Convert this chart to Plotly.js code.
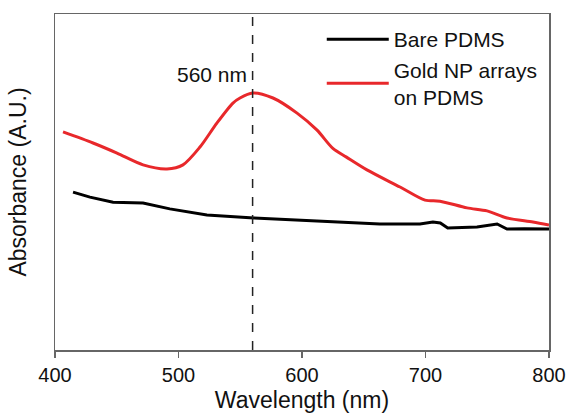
<!DOCTYPE html>
<html>
<head>
<meta charset="utf-8">
<script src="https://cdn.plot.ly/plotly-3.0.1.min.js"></script>
<style>html,body{margin:0;padding:0;background:#fff;}#chart{width:568px;height:413px;}</style>
</head>
<body>
<div id="chart"></div>
<script>
const bareX = [414.6, 428.3, 447, 471.3, 493, 523, 561, 598, 630, 663, 695.5, 706, 712, 718, 741.7, 758, 766, 780, 800];
const bareY = [0.470, 0.455, 0.440, 0.4375, 0.420, 0.402, 0.393, 0.387, 0.381, 0.375, 0.375, 0.381, 0.378, 0.363, 0.366, 0.375, 0.360, 0.361, 0.360];
const goldX = [406.5, 430.8, 450.2, 471.3, 490.7, 503.6, 517.4, 531.2, 544.1, 549.8, 560, 576.5, 596, 612, 625, 636, 652.6, 679.4, 699.6, 711.7, 733.6, 749.8, 766, 787, 800];
const goldY = [0.649, 0.616, 0.586, 0.551, 0.539, 0.551, 0.604, 0.676, 0.735, 0.750, 0.765, 0.750, 0.705, 0.655, 0.600, 0.574, 0.536, 0.485, 0.446, 0.443, 0.423, 0.414, 0.393, 0.381, 0.372];
const xTicks = [400, 500, 600, 700, 800];
const peakX = 560;
const peakLabel = "560 nm";

const font = "Liberation Sans, Arial, sans-serif";
const traces = [
  {x: bareX, y: bareY, type: 'scatter', mode: 'lines', name: 'Bare PDMS',
   line: {color: '#000000', width: 3}},
  {x: goldX, y: goldY, type: 'scatter', mode: 'lines', name: 'Gold NP arrays<br>on PDMS',
   line: {color: '#e8282b', width: 3, shape: 'spline', smoothing: 0.8}}
];
const layout = {
  width: 568, height: 413,
  margin: {l: 55, r: 19, t: 14, b: 63},
  paper_bgcolor: '#fff', plot_bgcolor: '#fff',
  font: {family: font, color: '#111', size: 22},
  showlegend: true,
  legend: {x: 0.54, y: 0.985, xanchor: 'left', yanchor: 'top', bgcolor: 'rgba(0,0,0,0)',
           font: {size: 21, family: font, color: '#111'}, itemwidth: 62, tracegroupgap: 2},
  xaxis: {range: [400, 800], tickvals: xTicks, ticktext: xTicks.map(String),
          showline: true, linecolor: '#666', linewidth: 1.5, mirror: true,
          ticks: 'outside', ticklen: 6, tickcolor: '#666', tickwidth: 1.5,
          showgrid: false, zeroline: false,
          tickfont: {size: 20, family: font, color: '#111'},
          title: {text: 'Wavelength (nm)', font: {size: 23, family: font, color: '#111'}, standoff: 8}},
  yaxis: {range: [0, 1], showticklabels: false, ticks: '',
          showline: true, linecolor: '#666', linewidth: 1.5, mirror: true,
          showgrid: false, zeroline: false,
          title: {text: 'Absorbance (A.U.)', font: {size: 23, family: font, color: '#111'}, standoff: 20}},
  shapes: [{type: 'line', xref: 'x', yref: 'paper', x0: peakX, x1: peakX, y0: 0, y1: 1,
            line: {color: '#222', width: 1.5, dash: 'dash'}}],
  annotations: [{x: peakX, y: 0.82, xref: 'x', yref: 'y', text: peakLabel, showarrow: false,
                 xanchor: 'right', xshift: -4, font: {size: 21, family: font, color: '#111'}}]
};
Plotly.newPlot('chart', traces, layout, {displayModeBar: false, staticPlot: true});
</script>
</body>
</html>
